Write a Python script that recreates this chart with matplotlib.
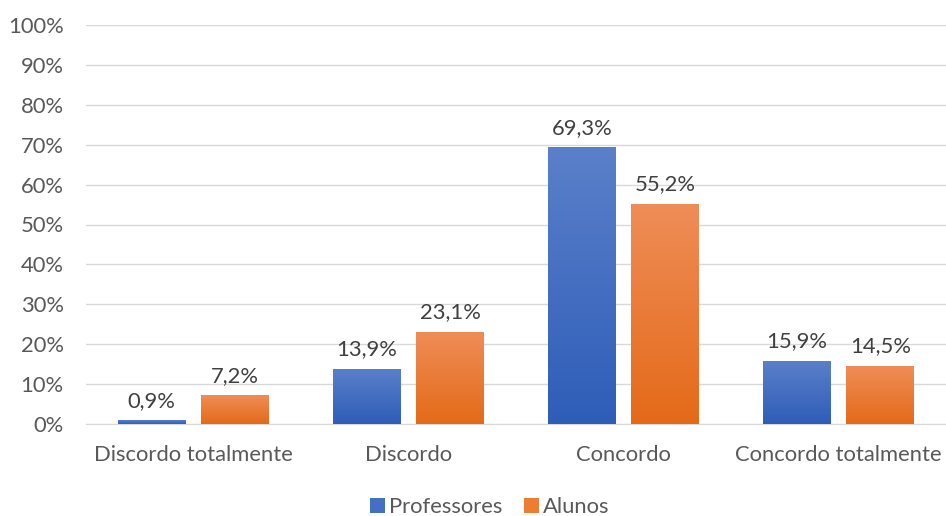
import matplotlib
matplotlib.use("Agg")
import matplotlib.pyplot as plt
import numpy as np
from matplotlib.colors import LinearSegmentedColormap
from matplotlib.patches import Patch

plt.rcParams['font.family'] = ['Lato', 'DejaVu Sans']

categories = ["Discordo totalmente", "Discordo", "Concordo", "Concordo totalmente"]
professores = [0.9, 13.9, 69.3, 15.9]
alunos = [7.2, 23.1, 55.2, 14.5]
series_names = ["Professores", "Alunos"]
yticks = list(range(0, 101, 10))

W, H = 946, 516
fig = plt.figure(figsize=(W / 100, H / 100), dpi=100)
ax = fig.add_axes([86 / W, 1 - 424 / H, (946 - 86) / W, (424 - 25) / H])

x = np.arange(len(categories))
bw = 0.315
off = 0.194
text_col = "#595959"
fs = 15.8

grads = {
    0: ("#5B80CA", "#2E5DB8"),
    1: ("#EF8D58", "#E46A18"),
}

def grad_bars(xs, vals, cols, idx):
    bars = ax.bar(xs, vals, bw, color=cols[1], zorder=3, linewidth=0)
    cmap = LinearSegmentedColormap.from_list("g%d" % idx, [cols[1], cols[0]])
    grad = np.linspace(0, 1, 256).reshape(-1, 1)
    for b in bars:
        bx, by = b.get_x(), b.get_y()
        bwid, bh = b.get_width(), b.get_height()
        im = ax.imshow(grad, cmap=cmap, origin="lower", aspect="auto",
                       extent=[bx, bx + bwid, by, by + bh], zorder=3.5,
                       interpolation="bicubic")
        im.set_clip_path(b)
    for b, v in zip(bars, vals):
        ax.text(b.get_x() + b.get_width() / 2, v + 2.4, ("%.1f%%" % v).replace(".", ","),
                ha="center", va="bottom", fontsize=fs, color="#404040", zorder=5)
    return bars

grad_bars(x - off, professores, grads[0], 0)
grad_bars(x + off, alunos, grads[1], 1)

ax.set_xlim(-0.5, len(categories) - 0.5)
ax.set_ylim(0, 100)
ax.set_yticks(yticks)
ax.set_yticklabels(["%d%%" % t for t in yticks])
ax.set_xticks(x)
ax.set_xticklabels(categories)
ax.tick_params(axis="both", length=0, labelsize=fs, colors=text_col)
ax.tick_params(axis="y", pad=16)
ax.tick_params(axis="x", pad=15)
ax.grid(axis="y", color="#D9D9D9", linewidth=1, zorder=0)
for s in ["top", "right", "left"]:
    ax.spines[s].set_visible(False)
ax.spines["bottom"].set_color("#D9D9D9")
ax.set_axisbelow(True)

handles = [Patch(facecolor="#4470C4"), Patch(facecolor="#ED7D31")]
fig.legend(handles, series_names, loc="center", bbox_to_anchor=(490 / W, 1 - 507 / H),
           ncol=2, frameon=False, fontsize=fs, labelcolor=text_col,
           handlelength=0.65, handleheight=0.65, handletextpad=0.2, columnspacing=1.0)

fig.savefig("out.png", dpi=100)
